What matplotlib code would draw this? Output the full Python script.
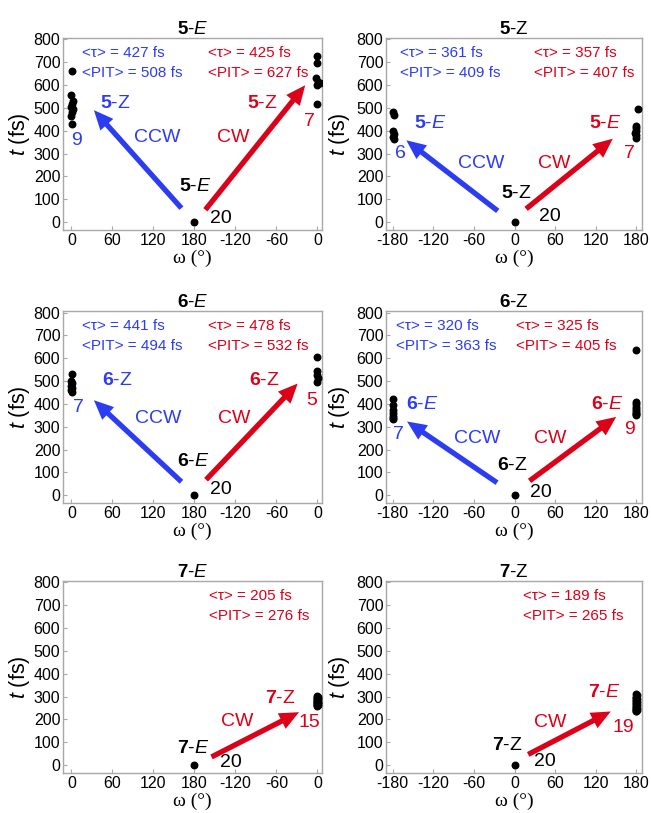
"""
Rotation time vs dihedral angle omega for the 5/6/7 E and Z isomers
(CW / CCW photoisomerisation channels)
"""

import matplotlib
matplotlib.use('Agg')
import matplotlib.pyplot as plt

plt.rcParams['font.family'] = 'Liberation Sans'
plt.rcParams['mathtext.fontset'] = 'custom'
plt.rcParams['mathtext.rm'] = 'Liberation Sans'
plt.rcParams['mathtext.it'] = 'Liberation Sans:italic'
plt.rcParams['mathtext.bf'] = 'Liberation Sans:bold'

BLUE = '#2b3cf2'
RED = '#dc0018'
GREY = '#a8a8a8'

# omega is given as position along the plotted axis
# (E panels: 0..360 drawn as 0,60,120,180,-120,-60,0)
# ---- 5-E ----
e5_ccw_omega = [1, 0, 2, 1, 0, 2, 1, 0, 1]
e5_ccw_t = [660, 555, 530, 515, 505, 495, 480, 465, 430]
e5_cw_omega = [359, 360, 358, 361, 363, 360, 359]
e5_cw_t = [728, 697, 630, 615, 608, 598, 518]
e5_tau = ['427', '425']
e5_pit = ['508', '627']
# ---- 5-Z ----
z5_ccw_omega = [-179, -178, -179, -178, -179, -178]
z5_ccw_t = [482, 470, 398, 385, 372, 362]
z5_cw_omega = [182, 179, 180, 179, 178, 180, 179]
z5_cw_t = [497, 422, 410, 400, 390, 380, 368]
z5_tau = ['361', '357']
z5_pit = ['409', '407']
# ---- 6-E ----
e6_ccw_omega = [1, 0, 1, 0, 1, 0, 1]
e6_ccw_t = [533, 500, 490, 480, 470, 460, 450]
e6_cw_omega = [360, 359, 360, 361, 360]
e6_cw_t = [605, 543, 528, 512, 495]
e6_tau = ['441', '478']
e6_pit = ['494', '532']
# ---- 6-Z ----
z6_ccw_omega = [-179, -179, -180, -179, -180, -179, -180]
z6_ccw_t = [420, 395, 372, 358, 348, 340, 335]
z6_cw_omega = [179, 180, 179, 180, 179, 180, 179, 180, 179]
z6_cw_t = [638, 408, 398, 388, 378, 370, 362, 356, 350]
z6_tau = ['320', '325']
z6_pit = ['363', '405']
# ---- 7-E (only CW) ----
e7_cw_omega = [360, 361, 359, 360, 361, 359, 360, 361, 359, 360, 361, 359, 360, 361, 360]
e7_cw_t = [305, 300, 296, 292, 288, 284, 281, 278, 275, 272, 270, 267, 265, 262, 260]
e7_tau = ['205']
e7_pit = ['276']
# ---- 7-Z (only CW) ----
z7_cw_omega = [180, 181, 179, 180, 181, 179, 180, 181, 179, 180, 181, 179, 180, 181, 179, 180,
               181, 179, 180]
z7_cw_t = [312, 306, 300, 294, 288, 284, 280, 276, 272, 268, 264, 260, 256, 252, 248, 245,
           242, 238, 235]
z7_tau = ['189']
z7_pit = ['265']

# reactant point at t = 0 (20 trajectories each)
start_omega = [180, 0, 180, 0, 180, 0]
start_t = [0, 0, 0, 0, 0, 0]
n_traj = 20

titles = [('5', 'E'), ('5', 'Z'), ('6', 'E'), ('6', 'Z'), ('7', 'E'), ('7', 'Z')]
ccw_sets = [(e5_ccw_omega, e5_ccw_t), (z5_ccw_omega, z5_ccw_t), (e6_ccw_omega, e6_ccw_t),
            (z6_ccw_omega, z6_ccw_t), None, None]
cw_sets = [(e5_cw_omega, e5_cw_t), (z5_cw_omega, z5_cw_t), (e6_cw_omega, e6_cw_t),
           (z6_cw_omega, z6_cw_t), (e7_cw_omega, e7_cw_t), (z7_cw_omega, z7_cw_t)]
taus = [e5_tau, z5_tau, e6_tau, z6_tau, e7_tau, z7_tau]
pits = [e5_pit, z5_pit, e6_pit, z6_pit, e7_pit, z7_pit]

# annotation layout per panel (data coords):
# ccw arrow tail/head, cw arrow tail/head, ccw label, CCW word, CW word, cw label,
# ccw count, cw count, start label, start count, stats x (blue, red)
layout = [
    dict(ccw=((161, 61), (33, 490)), cw=((196, 54), (342, 599)), ccw_lab=(64, 519),
         ccw_w=(125, 370), cw_w=(236, 370), cw_lab=(280, 519), ccw_n=(8, 359),
         cw_n=(348, 439), st_lab=(181, 156), st_n=(219, 17), sx=(16, 200)),
    dict(ccw=((-25, 49), (-160, 358)), cw=((17, 58), (145, 365)), ccw_lab=(-124, 430),
         ccw_w=(-50, 256), cw_w=(59, 256), cw_lab=(134, 430), ccw_n=(-168, 300),
         cw_n=(170, 300), st_lab=(3, 126), st_n=(52, 25), sx=(-169, 28)),
    dict(ccw=((161, 59), (33, 416)), cw=((197, 68), (331, 489)), ccw_lab=(67, 503),
         ccw_w=(127, 338), cw_w=(238, 338), cw_lab=(282, 503), ccw_n=(11, 385),
         cw_n=(352, 416), st_lab=(178, 146), st_n=(219, 25), sx=(16, 200)),
    dict(ccw=((-26, 55), (-159, 323)), cw=((22, 63), (150, 343)), ccw_lab=(-136, 398),
         ccw_w=(-56, 249), cw_w=(52, 249), cw_lab=(137, 398), ccw_n=(-171, 264),
         cw_n=(170, 286), st_lab=(-3, 130), st_n=(39, 10), sx=(-175, 2)),
    dict(cw=((205, 36), (333, 232)), cw_w=(243, 191), cw_lab=(306, 293),
         cw_n=(348, 188), st_lab=(178, 75), st_n=(233, 12), sx=(None, 202)),
    dict(cw=((20, 47), (142, 235)), cw_w=(53, 187), cw_lab=(133, 318),
         cw_n=(160, 165), st_lab=(-11, 88), st_n=(45, 15), sx=(None, 13)),
]


def iso_label(n, iso):
    if iso == 'E':
        return r'$\mathbf{%s}$-$\mathit{E}$' % n
    return r'$\mathbf{%s}$-Z' % n


fig = plt.figure(figsize=(6.51, 8.13), dpi=100)
lefts = [0.097, 0.593]
widths = [0.397, 0.393]
bottoms = [0.717, 0.381, 0.049]

for i in range(6):
    row, col = i // 2, i % 2
    ax = fig.add_axes([lefts[col], bottoms[row], widths[col], 0.236])
    n, iso = titles[i]
    other = 'Z' if iso == 'E' else 'E'
    L = layout[i]

    for side in ['top', 'right', 'left', 'bottom']:
        ax.spines[side].set_color(GREY)
        ax.spines[side].set_linewidth(1.0)
    ax.tick_params(direction='in', length=3, color=GREY, labelsize=11.5, pad=2)

    if iso == 'E':
        ax.set_xlim(-12, 366)
        ax.set_xticks([0, 60, 120, 180, 240, 300, 360])
        ax.set_xticklabels(['0', '60', '120', '180', '-120', '-60', '0'])
    else:
        ax.set_xlim(-190, 188)
        ax.set_xticks([-180, -120, -60, 0, 60, 120, 180])
        ax.set_xticklabels(['-180', '-120', '-60', '0', '60', '120', '180'])
    ax.set_ylim(-35, 805)
    ax.set_yticks(range(0, 801, 100))

    ax.set_title(iso_label(n, iso), fontsize=13.5, pad=3)
    ax.set_ylabel(r'$t$ (fs)', fontsize=15.5)
    ax.yaxis.set_label_coords(-0.122 if col == 0 else -0.135, 0.5)
    ax.set_xlabel('ω (°)', fontsize=14, family='Liberation Serif', labelpad=1)

    # points
    ax.scatter([start_omega[i]], [start_t[i]], s=22, color='black', zorder=3)
    if ccw_sets[i] is not None:
        ax.scatter(ccw_sets[i][0], ccw_sets[i][1], s=22, color='black', zorder=3)
    ax.scatter(cw_sets[i][0], cw_sets[i][1], s=22, color='black', zorder=3)

    aprops = dict(width=3.8, headwidth=12.5, headlength=14, shrink=0, lw=0)

    # CCW channel
    if ccw_sets[i] is not None:
        tail, head = L['ccw']
        ax.annotate('', xy=head, xytext=tail, arrowprops=dict(facecolor=BLUE, **aprops))
        ax.text(*L['ccw_lab'], iso_label(n, other), color=BLUE, fontsize=14,
                ha='center', va='center')
        ax.text(*L['ccw_w'], 'CCW', color=BLUE, fontsize=14, ha='center', va='center')
        ax.text(*L['ccw_n'], str(len(ccw_sets[i][1])), color=BLUE, fontsize=14,
                ha='center', va='center')
        ax.text(L['sx'][0], 740, '<τ> = %s fs' % taus[i][0], color=BLUE, fontsize=11,
                ha='left', va='center')
        ax.text(L['sx'][0], 652, '<PIT> = %s fs' % pits[i][0], color=BLUE, fontsize=11,
                ha='left', va='center')

    # CW channel
    tail, head = L['cw']
    ax.annotate('', xy=head, xytext=tail, arrowprops=dict(facecolor=RED, **aprops))
    ax.text(*L['cw_lab'], iso_label(n, other), color=RED, fontsize=14,
            ha='center', va='center')
    ax.text(*L['cw_w'], 'CW', color=RED, fontsize=14, ha='center', va='center')
    ax.text(*L['cw_n'], str(len(cw_sets[i][1])), color=RED, fontsize=14,
            ha='center', va='center')
    ax.text(L['sx'][1], 740, '<τ> = %s fs' % taus[i][-1], color=RED, fontsize=11,
            ha='left', va='center')
    ax.text(L['sx'][1], 652, '<PIT> = %s fs' % pits[i][-1], color=RED, fontsize=11,
            ha='left', va='center')

    # reactant
    ax.text(*L['st_lab'], iso_label(n, iso), color='black', fontsize=14,
            ha='center', va='center')
    ax.text(*L['st_n'], str(n_traj), color='black', fontsize=14, ha='center', va='center')

fig.savefig('out.png', dpi=100)
